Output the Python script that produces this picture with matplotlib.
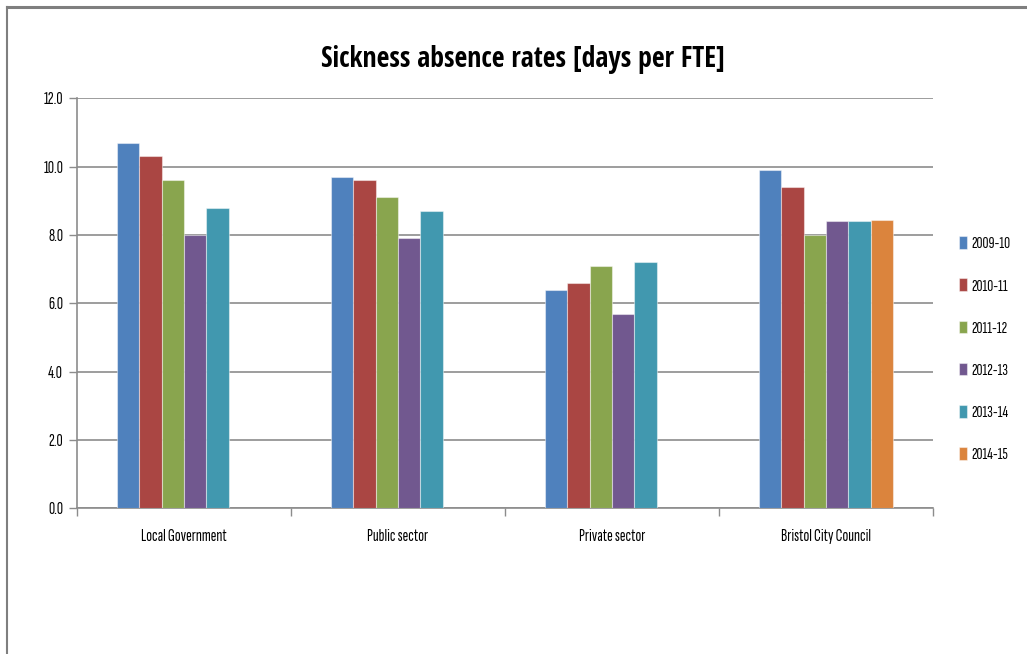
import numpy as np
import matplotlib.pyplot as plt
from matplotlib.lines import Line2D

# ------------------ DADOS ------------------ #
categorias = ["Local Government", "Public sector", "Private sector", "Bristol City Council"]
anos = ["2009-10", "2010-11", "2011-12", "2012-13", "2013-14", "2014-15"]

v_2009_10 = [10.7, 9.7, 6.4, 9.9]
v_2010_11 = [10.3, 9.6, 6.6, 9.4]
v_2011_12 = [9.6, 9.1, 7.1, 8.0]
v_2012_13 = [8.0, 7.9, 5.7, 8.4]
v_2013_14 = [8.8, 8.7, 7.2, 8.4]
v_2014_15 = [np.nan, np.nan, np.nan, 8.45]

series = [v_2009_10, v_2010_11, v_2011_12, v_2012_13, v_2013_14, v_2014_15]
cores = ["#4F81BD", "#AA4643", "#89A54E", "#71588F", "#4198AF", "#DB843D"]

fonte = ["Sofia Sans Extra Condensed", "Roboto Condensed", "DejaVu Sans"]
fonte_titulo = ["Open Sans Condensed", "Roboto Condensed", "DejaVu Sans"]
cinza = "#8C8C8C"

# ------------------ FIGURA ------------------ #
fig = plt.figure(figsize=(10.27, 6.54), dpi=100)
ax = fig.add_axes([0.075, 0.2228, 0.8335, 0.6269])

x = np.arange(len(categorias))
largura = 0.1047
for i, (valores, cor) in enumerate(zip(series, cores)):
    deslocamento = (i - 2.5) * largura
    ax.bar(x + deslocamento, valores, width=largura, color=cor,
           edgecolor=(1, 1, 1, 0.45), linewidth=0.8, label=anos[i], zorder=3)

ax.set_xlim(-0.5, len(categorias) - 0.5)
ax.set_ylim(0, 12)
ax.set_yticks(np.arange(0, 12.1, 2))
ax.set_yticklabels([f"{v:.1f}" for v in np.arange(0, 12.1, 2)], family=fonte, fontsize=12.5)

# categorias no centro, marcas de divisao entre grupos
ax.set_xticks(x)
ax.set_xticklabels(categorias, family=fonte, fontsize=12.5)
ax.tick_params(axis="x", which="major", length=0, pad=15)
ax.set_xticks(np.arange(-0.5, len(categorias)), minor=True)
ax.tick_params(axis="x", which="minor", length=6, color=cinza, width=1)
ax.tick_params(axis="y", length=6, color=cinza, width=1, pad=4)

ax.grid(axis="y", color=cinza, linewidth=1.2, zorder=0)
ax.set_axisbelow(True)
for lado in ["top", "right"]:
    ax.spines[lado].set_visible(False)
for lado in ["left", "bottom"]:
    ax.spines[lado].set_color(cinza)
    ax.spines[lado].set_linewidth(1.2)

fig.text(0.509, 0.909, "Sickness absence rates [days per FTE]", ha="center", va="center",
         family=fonte_titulo, fontsize=20, fontweight="bold")

# legenda a direita
fig.legend(loc="center left", bbox_to_anchor=(0.934, 0.466), frameon=False,
           prop={"family": fonte, "size": 12}, handlelength=0.45, handleheight=0.8,
           handletextpad=0.25, labelspacing=1.62, borderaxespad=0, borderpad=0)

# moldura do grafico
fig.add_artist(Line2D([0.007, 1.0], [0.989, 0.989], color="#7F7F7F", linewidth=2.2))
fig.add_artist(Line2D([0.007, 0.007], [0.0, 0.989], color="#7F7F7F", linewidth=1.5))

fig.savefig("out.png", dpi=100)
